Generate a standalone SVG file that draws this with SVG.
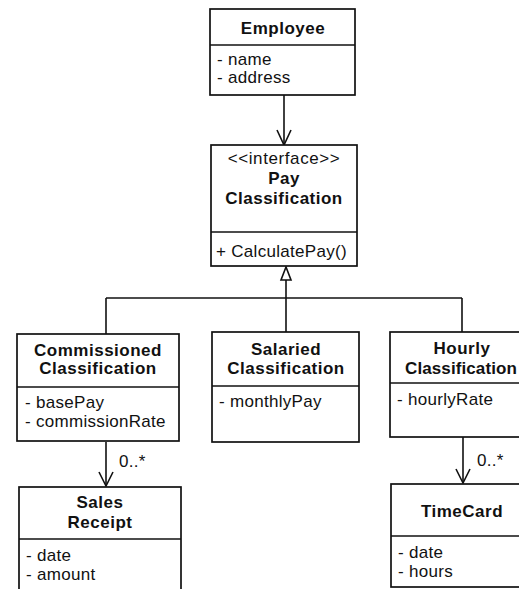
<svg xmlns="http://www.w3.org/2000/svg" width="519" height="589" viewBox="0 0 519 589">
  <defs>
    <style>
      .box { fill: #fff; stroke: #111; stroke-width: 1.7; }
      .sep { stroke: #111; stroke-width: 1.3; }
      .edge { fill: none; stroke: #111; stroke-width: 1.6; }
      .title { font-family: "Liberation Sans", Arial, sans-serif; font-size: 17px; font-weight: bold; fill: #111; text-anchor: middle; letter-spacing: 0.5px; }
      .attr { font-family: "Liberation Sans", Arial, sans-serif; font-size: 17px; fill: #111; letter-spacing: 0.3px; }
      .stereo { font-family: "Liberation Sans", Arial, sans-serif; font-size: 17px; fill: #111; text-anchor: middle; letter-spacing: 0.6px; }
    </style>
  </defs>
  <rect width="519" height="589" fill="#fff"/>

  <!-- connectors -->
  <g id="connectors">
    <!-- Employee -> Pay Classification (navigable association) -->
    <line class="edge" x1="284" y1="95" x2="284" y2="145"/>
    <polyline class="edge" points="277,130 284,145 291,130"/>
    <!-- realization tree -->
    <line class="edge" x1="286" y1="280" x2="286" y2="332"/>
    <polygon class="edge" points="286,267 281,280 291,280" fill="#fff"/>
    <line class="edge" x1="106" y1="298" x2="462" y2="298"/>
    <line class="edge" x1="106" y1="298" x2="106" y2="334"/>
    <line class="edge" x1="462" y1="298" x2="462" y2="332"/>
    <!-- Commissioned -> Sales Receipt -->
    <line class="edge" x1="106" y1="442" x2="106" y2="486"/>
    <polyline class="edge" points="99,472 106,486 113,472"/>
    <text class="attr" x="119" y="467">0..*</text>
    <!-- Hourly -> TimeCard -->
    <line class="edge" x1="463" y1="437" x2="463" y2="483"/>
    <polyline class="edge" points="456,469 463,483 470,469"/>
    <text class="attr" x="477" y="466">0..*</text>
  </g>

  <g id="employee">
    <rect class="box" x="210" y="9" width="145" height="86"/>
    <line class="sep" x1="210" y1="45" x2="355" y2="45"/>
    <text class="title" x="283" y="34">Employee</text>
    <text class="attr" x="217" y="65">- name</text>
    <text class="attr" x="217" y="83">- address</text>
  </g>

  <g id="pay-classification">
    <rect class="box" x="211" y="145" width="146" height="121"/>
    <line class="sep" x1="211" y1="232" x2="357" y2="232"/>
    <text class="stereo" x="284" y="164">&lt;&lt;interface&gt;&gt;</text>
    <text class="title" x="284" y="184">Pay</text>
    <text class="title" x="284" y="204">Classification</text>
    <text class="attr" x="216" y="257">+ CalculatePay()</text>
  </g>

  <g id="commissioned-classification">
    <rect class="box" x="17" y="334" width="162" height="107"/>
    <line class="sep" x1="17" y1="387" x2="179" y2="387"/>
    <text class="title" x="98" y="356">Commissioned</text>
    <text class="title" x="98" y="374">Classification</text>
    <text class="attr" x="25" y="408">- basePay</text>
    <text class="attr" x="25" y="427">- commissionRate</text>
  </g>

  <g id="salaried-classification">
    <rect class="box" x="212" y="332" width="147" height="110"/>
    <line class="sep" x1="212" y1="386" x2="359" y2="386"/>
    <text class="title" x="286" y="355">Salaried</text>
    <text class="title" x="286" y="374">Classification</text>
    <text class="attr" x="219" y="407">- monthlyPay</text>
  </g>

  <g id="hourly-classification">
    <rect class="box" x="390" y="332" width="145" height="105"/>
    <line class="sep" x1="390" y1="383" x2="535" y2="383"/>
    <text class="title" x="462" y="354">Hourly</text>
    <!-- tighter spacing keeps the right edge of this label inside the frame -->
    <text class="title" x="461" y="374" style="letter-spacing:0.1px">Classification</text>
    <text class="attr" x="397" y="405">- hourlyRate</text>
  </g>

  <g id="sales-receipt">
    <rect class="box" x="19" y="487" width="162" height="110"/>
    <line class="sep" x1="19" y1="539" x2="181" y2="539"/>
    <text class="title" x="100" y="508">Sales</text>
    <text class="title" x="100" y="528">Receipt</text>
    <text class="attr" x="26" y="561">- date</text>
    <text class="attr" x="26" y="580">- amount</text>
  </g>

  <g id="timecard">
    <rect class="box" x="391" y="484" width="145" height="103"/>
    <line class="sep" x1="391" y1="536" x2="536" y2="536"/>
    <text class="title" x="462" y="517">TimeCard</text>
    <text class="attr" x="398" y="558">- date</text>
    <text class="attr" x="398" y="577">- hours</text>
  </g>
</svg>
